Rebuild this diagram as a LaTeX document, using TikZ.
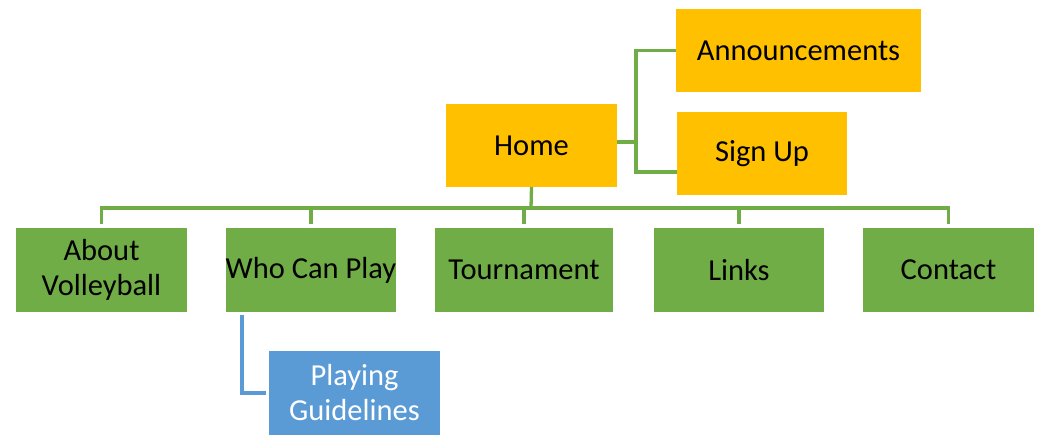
\documentclass[tikz,border=0pt]{standalone}
\usepackage{fontspec}
\setmainfont{Carlito}
\definecolor{gorange}{HTML}{FFC000}
\definecolor{ggreen}{HTML}{70AD47}
\definecolor{gblue}{HTML}{5B9BD5}
\begin{document}
\begin{tikzpicture}[x=1pt,y=-1pt,
  box/.style={rectangle,inner sep=0pt,outer sep=0pt,minimum height=83pt,align=center,
    font=\fontsize{30.5}{35}\selectfont,text=black},
  obox/.style={box,fill=gorange},
  gbox/.style={box,fill=ggreen,minimum height=84pt},
  bbox/.style={box,fill=gblue,minimum height=84pt,text=white},
  link/.style={draw=ggreen,line width=3.3pt},
  blink/.style={draw=gblue,line width=3.3pt}]
\useasboundingbox (0,0) rectangle (1051,440);
\node[obox,minimum width=171pt] (home) at (531.5,145.5) {Home};
\node[obox,minimum width=245pt] (ann) at (798.5,50.5) {Announcements};
\node[obox,minimum width=170pt] (sign) at (762,153.5) {Sign Up};
\node[gbox,minimum width=171pt] (about) at (101.5,270) {About\\Volleyball};
\node[gbox,minimum width=170pt] (who) at (311,270) {Who Can Play};
\node[gbox,minimum width=178pt] (tour) at (524,270) {Tournament};
\node[gbox,minimum width=170pt] (links) at (739,270) {Links};
\node[gbox,minimum width=171pt] (contact) at (948.5,270) {Contact};
\node[bbox,minimum width=171pt] (play) at (354.5,393) {Playing\\Guidelines};
\coordinate (bus) at (531,208);
\coordinate (j) at (636,142);
\draw[link] (home.south) -- (bus);
\draw[link] ([yshift=4pt]about.north) |- (bus) -| ([yshift=4pt]contact.north);
\draw[link] ([yshift=4pt]who.north) -- (who.north |- bus);
\draw[link] ([yshift=4pt]tour.north) -- (tour.north |- bus);
\draw[link] ([yshift=4pt]links.north) -- (links.north |- bus);
\draw[link] (home.east |- j) -- (j);
\draw[link] (ann.west) -| (j) |- ([yshift=-18.5pt]sign.west);
\draw[blink] ([xshift=-69pt,yshift=-3pt]who.south) |- ([xshift=-3pt]play.west);
\end{tikzpicture}
\end{document}
